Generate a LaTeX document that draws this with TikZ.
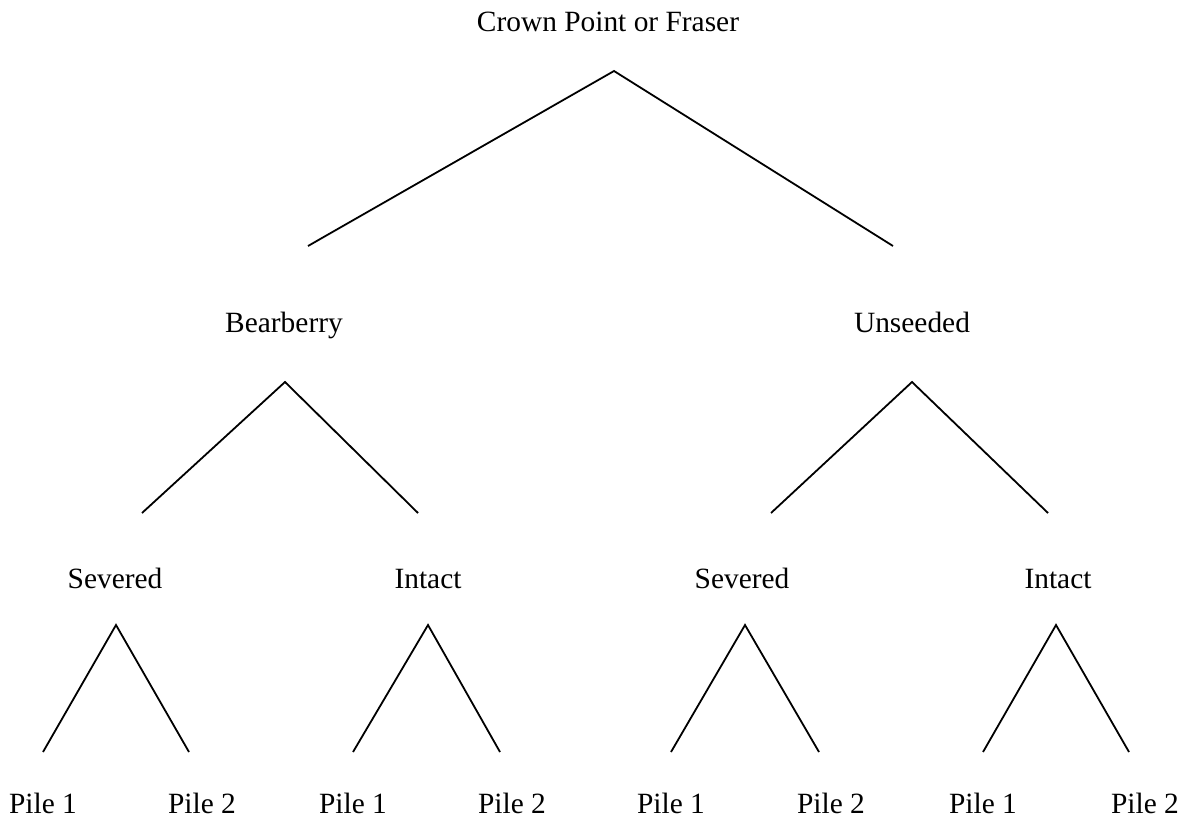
\documentclass[tikz,border=0pt]{standalone}
\usepackage{fontspec}
\setmainfont{Liberation Serif}
\usepackage{tikz}
\usetikzlibrary{positioning}
\tikzset{%
  lbl/.style = {anchor=base,inner sep=0pt,font=\fontsize{14.7}{17}\selectfont},
  br/.style = {line width=0.9pt}
}

\begin{document}
\begin{tikzpicture}[x=0.5pt,y=-0.5pt]
  \useasboundingbox (0,0) rectangle (1186,818);
  % labels
  \node[lbl] (top) at (608,32) {Crown Point or Fraser};
  \node[lbl] (bear) at (284,332) {Bearberry};
  \node[lbl] (unse) at (912,332) {Unseeded};
  \node[lbl] (sev1) at (115,588) {Severed};
  \node[lbl] (int1) at (428,588) {Intact};
  \node[lbl] (sev2) at (742,588) {Severed};
  \node[lbl] (int2) at (1058,588) {Intact};
  \foreach \x/\n in {43/a,353/b,671/c,983/d}
    \node[lbl] (p1\n) at (\x,813) {Pile 1};
  \foreach \x/\n in {202/a,512/b,831/c,1145/d}
    \node[lbl] (p2\n) at (\x,813) {Pile 2};

  % branch points and feet
  \coordinate (topv) at (614,71);
  \coordinate (topl) at (308,246);
  \coordinate (topr) at (893,246);
  \coordinate (bearv) at (285,382);
  \coordinate (bearl) at (142,513);
  \coordinate (bearr) at (418,513);
  \coordinate (unsev) at (912,382);
  \coordinate (unsel) at (771,513);
  \coordinate (unser) at (1048,513);
  \foreach \n/\v/\l/\r in {sev1/116/43/189,int1/428/353/500,
                           sev2/745/671/819,int2/1056/983/1129}{
    \coordinate (\n v) at (\v,625);
    \coordinate (\n l) at (\l,752);
    \coordinate (\n r) at (\r,752);
  }

  \draw[br] (topl) -- (topv) -- (topr);
  \draw[br] (bearl) -- (bearv) -- (bearr);
  \draw[br] (unsel) -- (unsev) -- (unser);
  \foreach \n in {sev1,int1,sev2,int2}
    \draw[br] (\n l) -- (\n v) -- (\n r);
\end{tikzpicture}
\end{document}
